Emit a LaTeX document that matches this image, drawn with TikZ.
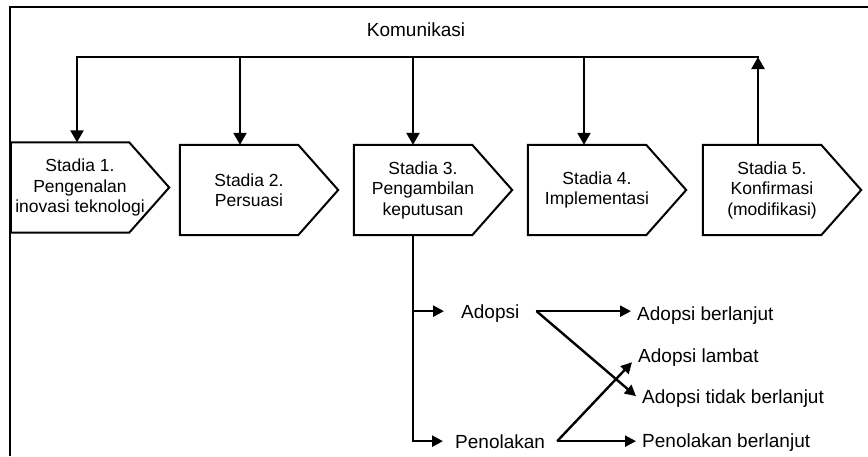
\documentclass[tikz,border=0pt]{standalone}
\usepackage{fontspec}
\setmainfont{Liberation Sans}
\usetikzlibrary{arrows.meta}
\tikzstyle{stadia}=[minimum width=138pt, minimum height=90pt, inner sep=0pt, align=center, font=\fontsize{17.5}{20.5}\selectfont]
\tikzstyle{box}=[line width=2pt, line join=miter]
\tikzstyle{flow}=[line width=2.3pt, -{Triangle[width=13pt,length=12pt]}]
\tikzstyle{small}=[line width=2.4pt, -{Triangle[width=11pt,length=11pt]}]
\tikzstyle{teks}=[inner ysep=0pt, text height=13.7pt, text depth=0pt, font=\fontsize{19}{22}\selectfont]
\tikzstyle{hasil}=[teks, anchor=base west, inner xsep=6pt]

\begin{document}
\begin{tikzpicture}[x=1pt, y=-1pt]
    \useasboundingbox (0,0) rectangle (868,456);
    % open frame, cut off at right and bottom
    \draw[line width=1.4pt] (10,456) -- (10,7) -- (868,7);

    \node[teks] (kom) at (416,30) {Komunikasi};

    % the five stadia
    \node[stadia] (s1) at (80,187.5) {Stadia 1.\\Pengenalan\\inovasi teknologi};
    \node[stadia] (s2) at (249,190) {Stadia 2.\\Persuasi};
    \node[stadia] (s3) at (423,190) {Stadia 3.\\Pengambilan\\keputusan};
    \node[stadia] (s4) at (597,190) {Stadia 4.\\Implementasi};
    \node[stadia] (s5) at (772,190) {Stadia 5.\\Konfirmasi\\(modifikasi)};
    \foreach \i in {1,...,5}{
      \draw[box] (s\i.north west) -- ([xshift=-20pt]s\i.north east)
        -- ([xshift=20pt]s\i.east) -- ([xshift=-20pt]s\i.south east)
        -- (s\i.south west) -- cycle;
    }

    % komunikasi line
    \foreach \i/\x in {1/77, 2/240, 3/413, 4/584, 5/758}
      \coordinate (c\i) at (\x,57);
    \draw[line width=2.3pt, line cap=rect] (c1) -- (c5);
    \foreach \i in {1,...,4}{
      \draw[flow] (c\i) -- (c\i |- s\i.north);
    }
    \draw[flow] (c5 |- s5.north) -- (c5);

    % outcomes of the decision
    \node[hasil, inner xsep=17pt] (ad) at (444,318) {Adopsi};
    \node[hasil, inner xsep=12pt] (pn) at (443,448) {Penolakan};
    \node[hasil] (ab) at (631,320) {Adopsi berlanjut};
    \node[hasil] (al) at (632,362) {Adopsi lambat};
    \node[hasil] (atb) at (636,403) {Adopsi tidak berlanjut};
    \node[hasil] (pb) at (636,447) {Penolakan berlanjut};

    \draw[small] (c3 |- s3.south) -- (c3 |- pn.west) -- (pn.west);
    \draw[small] (c3 |- ad.west) -- (ad.west);
    \draw[small] (ad.east) -- (ad.east -| ab.west);
    \draw[small] (ad.east) -- (atb.west);
    \draw[small] (pn.east) -- (pn.east -| pb.west);
    \draw[small] (pn.east) -- (al.south west);
\end{tikzpicture}
\end{document}
